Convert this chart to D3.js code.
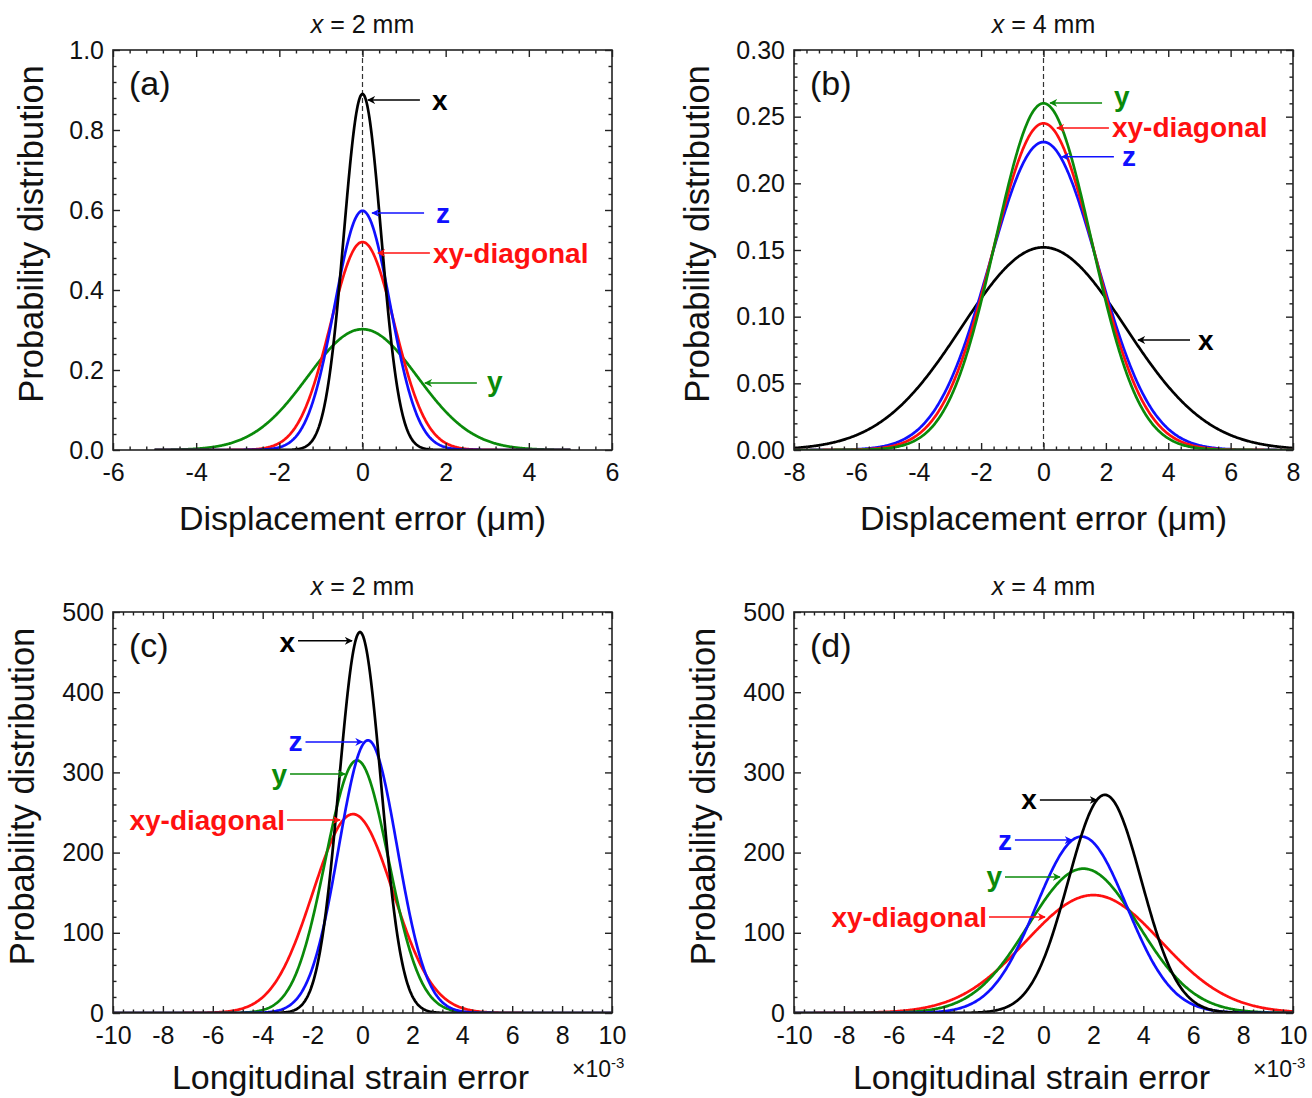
<!DOCTYPE html>
<html>
<head>
<meta charset="utf-8">
<script src="https://cdn.jsdelivr.net/npm/d3@7"></script>
<style>
  html, body { margin: 0; padding: 0; background: #fff; }
  svg { display: block; font-family: "Liberation Sans", Arial, sans-serif; }
</style>
</head>
<body>
<svg id="fig" width="1312" height="1098"></svg>
<script>
// Error distributions along four directions, modelled as normal densities.
// Each series is given by its mean (location of the peak) and its peak density.
const seriesNames = ["x", "y", "z", "xy-diagonal"];
const seriesColors = { "x": "#000000", "y": "#0a8a0a", "z": "#1010ff", "xy-diagonal": "#ff1010" };

// (a) displacement error, x = 2 mm  (µm)
const meanA = { "x": 0, "y": 0, "z": 0, "xy-diagonal": 0 };
const peakA = { "x": 0.89, "y": 0.302, "z": 0.598, "xy-diagonal": 0.52 };
// (b) displacement error, x = 4 mm  (µm)
const meanB = { "x": 0, "y": 0, "z": 0, "xy-diagonal": 0 };
const peakB = { "x": 0.152, "y": 0.26, "z": 0.231, "xy-diagonal": 0.245 };
// (c) longitudinal strain error, x = 2 mm  (×10^-3)
const meanC = { "x": -0.1, "y": -0.22, "z": 0.22, "xy-diagonal": -0.38 };
const peakC = { "x": 475, "y": 315, "z": 340, "xy-diagonal": 248 };
// (d) longitudinal strain error, x = 4 mm  (×10^-3)
const meanD = { "x": 2.46, "y": 1.6, "z": 1.52, "xy-diagonal": 2.0 };
const peakD = { "x": 272, "y": 180, "z": 220, "xy-diagonal": 147 };

// Axis ticks
const xTicksA = [-6, -4, -2, 0, 2, 4, 6];
const yTicksA = [0, 0.2, 0.4, 0.6, 0.8, 1.0];
const xTicksB = [-8, -6, -4, -2, 0, 2, 4, 6, 8];
const yTicksB = [0, 0.05, 0.10, 0.15, 0.20, 0.25, 0.30];
const xTicksCD = [-10, -8, -6, -4, -2, 0, 2, 4, 6, 8, 10];
const yTicksCD = [0, 100, 200, 300, 400, 500];

const titles = ["x = 2 mm", "x = 4 mm", "x = 2 mm", "x = 4 mm"];
const panelTags = ["(a)", "(b)", "(c)", "(d)"];

const svg = d3.select("#fig");
const SQ2PI = Math.sqrt(2 * Math.PI);
// plain hyphen for negative tick labels
const intFmt = d => String(Math.round(d));

const panels = [
  { tag: panelTags[0], title: titles[0], mean: meanA, peak: peakA, unit: 1,
    box: [113, 612, 50, 450], xDom: [-6, 6], yDom: [0, 1], xTicks: xTicksA, yTicks: yTicksA,
    xMinor: 0.4, yMinor: 0.04, yFmt: d => d.toFixed(1), span: [-5, 5], zeroLine: true,
    xLabel: "Displacement error (\u03bcm)", yLabelX: 31, sci: false,
    order: ["y", "xy-diagonal", "z", "x"],
    notes: [
      { s: "x",           tip: [0.13, 0.875],  dir: 1, len: 52, gap: 12, dy: 0 },
      { s: "z",           tip: [0.23, 0.5925], dir: 1, len: 52, gap: 12, dy: 0 },
      { s: "xy-diagonal", tip: [0.37, 0.4925], dir: 1, len: 52, gap: 3, dy: 0 },
      { s: "y",           tip: [1.5, 0.1675],  dir: 1, len: 52, gap: 10, dy: -2 }
    ] },
  { tag: panelTags[1], title: titles[1], mean: meanB, peak: peakB, unit: 1,
    box: [794, 1293, 50, 450], xDom: [-8, 8], yDom: [0, 0.3], xTicks: xTicksB, yTicks: yTicksB,
    xMinor: 0.4, yMinor: 0.01, yFmt: d => d.toFixed(2), span: [-8, 8], zeroLine: true,
    xLabel: "Displacement error (\u03bcm)", yLabelX: 697, sci: false,
    order: ["x", "z", "xy-diagonal", "y"],
    notes: [
      { s: "y",           tip: [0.21, 0.2603], dir: 1, len: 52, gap: 12, dy: -6 },
      { s: "xy-diagonal", tip: [0.43, 0.2415], dir: 1, len: 52, gap: 3, dy: -1 },
      { s: "z",           tip: [0.59, 0.22],   dir: 1, len: 52, gap: 8, dy: 0 },
      { s: "x",           tip: [3.03, 0.0825], dir: 1, len: 52, gap: 8, dy: 0 }
    ] },
  { tag: panelTags[2], title: titles[2], mean: meanC, peak: peakC, unit: 1e-3,
    box: [113, 612, 612, 1013], xDom: [-10, 10], yDom: [0, 500], xTicks: xTicksCD, yTicks: yTicksCD,
    xMinor: 0.4, yMinor: 20, yFmt: intFmt, span: [-10, 10], zeroLine: false,
    xLabel: "Longitudinal strain error", yLabelX: 22, sci: true,
    order: ["xy-diagonal", "y", "z", "x"],
    notes: [
      { s: "x",           tip: [-0.42, 464],  dir: -1, len: 54, gap: 3, dy: 2 },
      { s: "z",           tip: [0.0, 338],    dir: -1, len: 57, gap: 3, dy: 0 },
      { s: "y",           tip: [-0.7, 298],   dir: -1, len: 55, gap: 3, dy: 0 },
      { s: "xy-diagonal", tip: [-0.9, 240.6], dir: -1, len: 53, gap: 2, dy: 0 }
    ] },
  { tag: panelTags[3], title: titles[3], mean: meanD, peak: peakD, unit: 1e-3,
    box: [794, 1293, 612, 1013], xDom: [-10, 10], yDom: [0, 500], xTicks: xTicksCD, yTicks: yTicksCD,
    xMinor: 0.4, yMinor: 20, yFmt: intFmt, span: [-10, 10], zeroLine: false,
    xLabel: "Longitudinal strain error", yLabelX: 703, sci: true,
    order: ["xy-diagonal", "y", "z", "x"],
    notes: [
      { s: "x",           tip: [2.14, 265.6], dir: -1, len: 57, gap: 3, dy: 0 },
      { s: "z",           tip: [1.14, 215.7], dir: -1, len: 57, gap: 3, dy: 0 },
      { s: "y",           tip: [0.66, 169.6], dir: -1, len: 55, gap: 3, dy: 0 },
      { s: "xy-diagonal", tip: [0.06, 119.7], dir: -1, len: 56, gap: 2, dy: 0 }
    ] }
];

// arrowhead markers, one per series colour
const defs = svg.append("defs");
seriesNames.forEach((s, i) => {
  defs.append("marker")
    .attr("id", "ah" + i)
    .attr("viewBox", "0 0 10 10")
    .attr("refX", 9).attr("refY", 5)
    .attr("markerWidth", 8).attr("markerHeight", 8)
    .attr("markerUnits", "userSpaceOnUse")
    .attr("orient", "auto")
    .append("path")
    .attr("d", "M0,0 L10,5 L0,10 L3,5 Z")
    .attr("fill", seriesColors[s]);
});

function range(a, b, step) {
  const n = Math.round((b - a) / step);
  return d3.range(n + 1).map(i => +(a + i * step).toFixed(6));
}

panels.forEach((p, pi) => {
  const [L, R, T, B] = p.box;
  const x = d3.scaleLinear().domain(p.xDom).range([L, R]);
  const y = d3.scaleLinear().domain(p.yDom).range([B, T]);
  const g = svg.append("g");

  defs.append("clipPath").attr("id", "clip" + pi)
    .append("rect").attr("x", L).attr("y", T).attr("width", R - L).attr("height", B - T);

  // title above the frame: italic variable name
  const tt = g.append("text").attr("x", (L + R) / 2).attr("y", T - 17)
    .attr("text-anchor", "middle").attr("font-size", 25).attr("fill", "#111");
  tt.append("tspan").attr("font-style", "italic").text(p.title.slice(0, 1));
  tt.append("tspan").text(p.title.slice(1));

  // zero reference line
  if (p.zeroLine) {
    g.append("line").attr("x1", x(0)).attr("x2", x(0)).attr("y1", T).attr("y2", B)
      .attr("stroke", "#333").attr("stroke-width", 1.2).attr("stroke-dasharray", "5,3");
  }

  // density curves
  const xs = d3.range(0, 601).map(i => p.span[0] + (p.span[1] - p.span[0]) * i / 600);
  const line = d3.line().x(d => x(d[0])).y(d => y(d[1]));
  p.order.forEach(s => {
    const mu = p.mean[s];
    const sigma = 1 / (p.peak[s] * p.unit * SQ2PI);   // in axis units
    const pts = xs.map(v => [v, p.peak[s] * Math.exp(-0.5 * Math.pow((v - mu) / sigma, 2))]);
    g.append("path").datum(pts)
      .attr("d", line)
      .attr("fill", "none")
      .attr("stroke", seriesColors[s])
      .attr("stroke-width", 2.7)
      .attr("clip-path", `url(#clip${pi})`);
  });

  // axes: inward ticks on all four sides
  const xMinorVals = range(p.xDom[0], p.xDom[1], p.xMinor).filter(v => !p.xTicks.some(t => Math.abs(t - v) < 1e-6));
  const yMinorVals = range(p.yDom[0], p.yDom[1], p.yMinor).filter(v => !p.yTicks.some(t => Math.abs(t - v) < 1e-6));

  const styleAxis = sel => {
    sel.select(".domain").remove();
    sel.selectAll(".tick line").attr("stroke", "#222").attr("stroke-width", 1.4);
    sel.selectAll(".tick text").attr("font-size", 25).attr("fill", "#111")
      .attr("font-family", "'Liberation Sans', Arial, sans-serif");
  };

  g.append("g").attr("transform", `translate(0,${B})`)
    .call(d3.axisBottom(x).tickValues(p.xTicks).tickSize(-7).tickPadding(13).tickFormat(intFmt))
    .call(styleAxis);
  g.append("g").attr("transform", `translate(0,${B})`)
    .call(d3.axisBottom(x).tickValues(xMinorVals).tickSize(-3.5).tickFormat(""))
    .call(styleAxis);
  g.append("g").attr("transform", `translate(0,${T})`)
    .call(d3.axisTop(x).tickValues(p.xTicks).tickSize(-7).tickFormat(""))
    .call(styleAxis);
  g.append("g").attr("transform", `translate(0,${T})`)
    .call(d3.axisTop(x).tickValues(xMinorVals).tickSize(-3.5).tickFormat(""))
    .call(styleAxis);

  g.append("g").attr("transform", `translate(${L},0)`)
    .call(d3.axisLeft(y).tickValues(p.yTicks).tickSize(-7).tickPadding(9).tickFormat(p.yFmt))
    .call(styleAxis);
  g.append("g").attr("transform", `translate(${L},0)`)
    .call(d3.axisLeft(y).tickValues(yMinorVals).tickSize(-3.5).tickFormat(""))
    .call(styleAxis);
  g.append("g").attr("transform", `translate(${R},0)`)
    .call(d3.axisRight(y).tickValues(p.yTicks).tickSize(-7).tickFormat(""))
    .call(styleAxis);
  g.append("g").attr("transform", `translate(${R},0)`)
    .call(d3.axisRight(y).tickValues(yMinorVals).tickSize(-3.5).tickFormat(""))
    .call(styleAxis);

  // frame
  g.append("rect").attr("x", L).attr("y", T).attr("width", R - L).attr("height", B - T)
    .attr("fill", "none").attr("stroke", "#222").attr("stroke-width", 1.6);

  // panel tag
  g.append("text").attr("x", L + 16).attr("y", T + 45).attr("font-size", 34).attr("fill", "#111")
    .text(p.tag);

  // axis titles
  g.append("text").attr("x", (L + R) / 2).attr("y", p.sci ? B + 76 : B + 80).attr("text-anchor", "middle")
    .attr("font-size", 34).attr("fill", "#111").text(p.xLabel)
    .attr("dx", p.sci ? -12 : 0);
  g.append("text")
    .attr("transform", `translate(${p.yLabelX},${(T + B) / 2 - 16}) rotate(-90)`)
    .attr("text-anchor", "middle").attr("dominant-baseline", "central")
    .attr("font-size", 34.5).attr("fill", "#111").text("Probability distribution");

  if (p.sci) {
    const st = g.append("text").attr("x", R - 40).attr("y", B + 64).attr("font-size", 23).attr("fill", "#111");
    st.append("tspan").text("\u00d710");
    st.append("tspan").attr("dy", -9).attr("font-size", 15).text("-3");
  }

  // series annotations with arrows
  p.notes.forEach(n => {
    const ci = seriesNames.indexOf(n.s);
    const tx = x(n.tip[0]), ty = y(n.tip[1]);
    const tail = tx + n.dir * n.len;
    g.append("line")
      .attr("x1", tail).attr("y1", ty).attr("x2", tx).attr("y2", ty)
      .attr("stroke", seriesColors[n.s]).attr("stroke-width", 1.5)
      .attr("marker-end", `url(#ah${ci})`);
    g.append("text")
      .attr("x", tail + n.dir * n.gap).attr("y", ty + n.dy)
      .attr("text-anchor", n.dir > 0 ? "start" : "end")
      .attr("dominant-baseline", "central")
      .attr("font-size", 28).attr("font-weight", "bold")
      .attr("fill", seriesColors[n.s])
      .text(n.s);
  });
});
</script>
</body>
</html>
